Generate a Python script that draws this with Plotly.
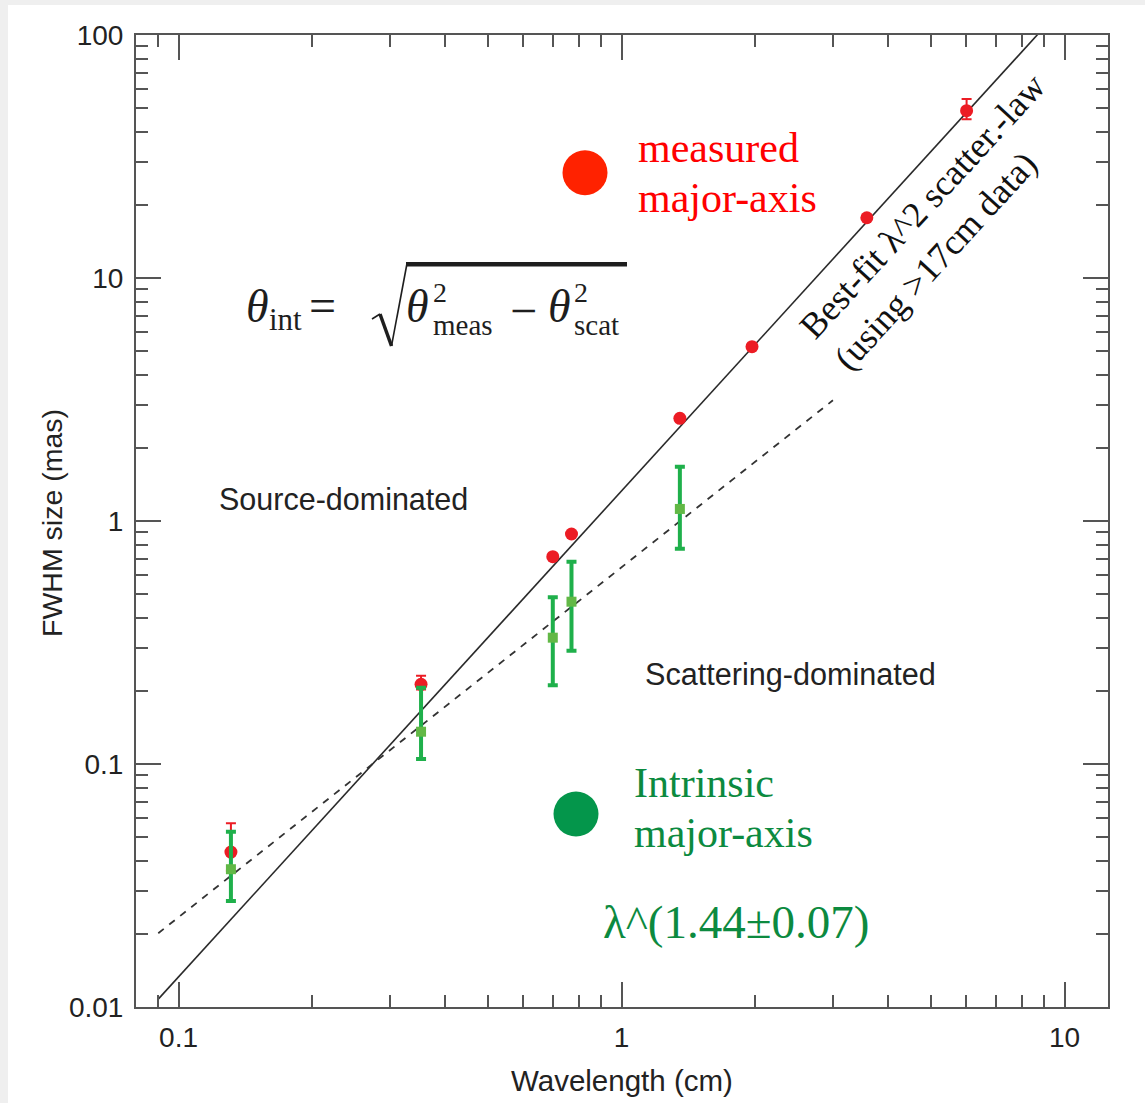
import numpy as np
import plotly.graph_objects as go

# Measured major-axis FWHM sizes (mas) vs observing wavelength (cm)
wavelength_cm = [0.1313, 0.3527, 0.6995, 0.7709, 1.354, 1.970, 3.578, 6.009]
measured_mas = [0.0434, 0.2128, 0.713, 0.884, 2.646, 5.215, 17.7, 48.8]
measured_err_plus = [0.0137, 0.018, None, None, None, None, None, 5.7]
measured_err_minus = [0.007, 0.010, None, None, None, None, None, 3.8]

# Intrinsic major-axis sizes (mas) with asymmetric uncertainties
intrinsic_wavelength_cm = [0.1313, 0.3527, 0.6995, 0.7709, 1.354]
intrinsic_mas = [0.0369, 0.1358, 0.331, 0.4655, 1.121]
intrinsic_err_plus = [0.0157, 0.0703, 0.1543, 0.2145, 0.552]
intrinsic_err_minus = [0.0096, 0.0309, 0.1201, 0.1729, 0.352]

# Power-law models: scattering law A*lambda^2 and intrinsic fit B*lambda^1.44
scatter_amp, scatter_index = 1.33, 2.0
scatter_lam_range = [0.09, 12.5]
intrinsic_amp, intrinsic_index = 0.645, 1.44
intrinsic_lam_range = [0.09, 3.0]

W, H = 1145, 1103
PL, PR, PT, PB = 136, 1108, 35, 1007


def px(x):
    return (x - PL) / (PR - PL)


def py(y):
    return (PB - y) / (PB - PT)


fig = go.Figure()

lam_s = np.logspace(np.log10(scatter_lam_range[0]), np.log10(scatter_lam_range[1]), 50)
fig.add_trace(go.Scatter(x=lam_s, y=scatter_amp * lam_s ** scatter_index, mode="lines",
                         line=dict(color="#2a2a2a", width=1.6), hoverinfo="skip"))

lam_i = np.logspace(np.log10(intrinsic_lam_range[0]), np.log10(intrinsic_lam_range[1]), 50)
fig.add_trace(go.Scatter(x=lam_i, y=intrinsic_amp * lam_i ** intrinsic_index, mode="lines",
                         line=dict(color="#333333", width=1.8, dash="7px,7px"), hoverinfo="skip"))

fig.add_trace(go.Scatter(
    x=wavelength_cm, y=measured_mas, mode="markers",
    marker=dict(symbol="circle", size=13, color="#ec1c24"),
    error_y=dict(type="data", array=measured_err_plus, arrayminus=measured_err_minus,
                 symmetric=False, color="#ec1c24", thickness=2, width=5),
))

fig.add_trace(go.Scatter(
    x=intrinsic_wavelength_cm, y=intrinsic_mas, mode="markers",
    marker=dict(symbol="square", size=10, color="#62b846"),
    error_y=dict(type="data", array=intrinsic_err_plus, arrayminus=intrinsic_err_minus,
                 symmetric=False, color="#1fb04b", thickness=4, width=5),
))

axis_common = dict(
    type="log", dtick=1, showgrid=False, zeroline=False,
    showline=True, linecolor="#555555", linewidth=2, mirror="allticks",
    ticks="inside", ticklen=25, tickwidth=1.5, tickcolor="#555555",
    minor=dict(ticks="inside", ticklen=12, tickwidth=1.5, tickcolor="#555555", dtick="D1", showgrid=False),
    tickfont=dict(family="Liberation Sans, Arial, sans-serif", size=28, color="#222222"),
)

fig.update_xaxes(range=[-1.096, 1.098], ticklabelstandoff=4, **axis_common)
fig.update_yaxes(range=[-2, 2], ticklabelstandoff=5, **axis_common)

annotations = []


def add_text(text, x, y, size, color, family="Liberation Serif, Times New Roman, serif",
             xanchor="left", yanchor="middle", angle=0, align="left"):
    annotations.append(dict(text=text, x=px(x), y=py(y), xref="paper", yref="paper",
                            xanchor=xanchor, yanchor=yanchor, showarrow=False, textangle=angle,
                            align=align, font=dict(family=family, size=size, color=color)))


sans = "Liberation Sans, Arial, sans-serif"

# Axis titles
add_text("Wavelength (cm)", 622, 1080, 29.5, "#222222", family=sans, xanchor="center")
add_text("FWHM size (mas)", 52, 523, 28.5, "#222222", family=sans, xanchor="center", angle=-90)

# Regime labels
add_text("Source-dominated", 343, 499, 30.5, "#222222", family=sans, xanchor="center")
add_text("Scattering-dominated", 790, 674, 30.6, "#222222", family=sans, xanchor="center")

# Key for the two data sets
add_text("measured", 636, 148, 42, "#ff0000")
add_text("major-axis", 636, 197.5, 42, "#ff0000")
add_text("Intrinsic", 632, 782.5, 42, "#0c8a3f")
add_text("major-axis", 632, 832.5, 42, "#0c8a3f")
add_text("λ^(1.44±0.07)", 601, 921.5, 47, "#0c8a3f")

# Label running along the scattering law
add_text("Best-fit λ^2 scatter.-law<br>(using >17cm data)", 939, 222, 36, "#111111",
         xanchor="center", angle=-47.5, align="left")

# Formula: theta_int = sqrt(theta_meas^2 - theta_scat^2)
fcol = "#1e1e1e"
add_text("<i>θ</i>", 244, 306.5, 46, fcol)
add_text("int", 267, 320, 31, fcol)
add_text("=", 307, 305.8, 48, fcol)
add_text("<i>θ</i>", 404, 306.5, 46, fcol)
add_text("2", 431, 292, 28, fcol)
add_text("meas", 431, 324.5, 29, fcol)
add_text("−", 508, 310.8, 48, fcol)
add_text("<i>θ</i>", 546, 306.5, 46, fcol)
add_text("2", 572, 292, 28, fcol)
add_text("scat", 572, 324.5, 29, fcol)

fig.update_layout(annotations=annotations)


def path(points):
    return "M " + " L ".join(f"{px(a)},{py(b)}" for a, b in points)


shapes = [
    # page frame
    dict(type="rect", xref="paper", yref="paper", x0=px(0), x1=px(W), y0=py(0), y1=py(5),
         fillcolor="#efefef", line=dict(width=0), layer="below"),
    dict(type="rect", xref="paper", yref="paper", x0=px(0), x1=px(8), y0=py(0), y1=py(H),
         fillcolor="#efefef", line=dict(width=0), layer="below"),
    # radical sign and vinculum
    dict(type="path", xref="paper", yref="paper", path=path([(372, 319), (380, 314)]),
         line=dict(color=fcol, width=1.6)),
    dict(type="path", xref="paper", yref="paper", path=path([(380, 314), (391.5, 346)]),
         line=dict(color=fcol, width=3.5)),
    dict(type="path", xref="paper", yref="paper", path=path([(391.5, 346), (407, 263.5)]),
         line=dict(color=fcol, width=1.6)),
    dict(type="line", xref="paper", yref="paper", x0=px(406), x1=px(627), y0=py(264.3), y1=py(264.3),
         line=dict(color=fcol, width=4.5)),
    # key markers
    dict(type="circle", xref="paper", yref="paper", x0=px(562.5), x1=px(607.5), y0=py(195.2), y1=py(150.2),
         fillcolor="#ff2200", line=dict(width=0)),
    dict(type="circle", xref="paper", yref="paper", x0=px(553.5), x1=px(598.5), y0=py(836.5), y1=py(791.5),
         fillcolor="#04964b", line=dict(width=0)),
]

fig.update_layout(
    width=W, height=H,
    margin=dict(l=PL, r=W - PR, t=PT, b=H - PB),
    paper_bgcolor="white", plot_bgcolor="white",
    showlegend=False, shapes=shapes,
)

fig.write_html("out.html")
